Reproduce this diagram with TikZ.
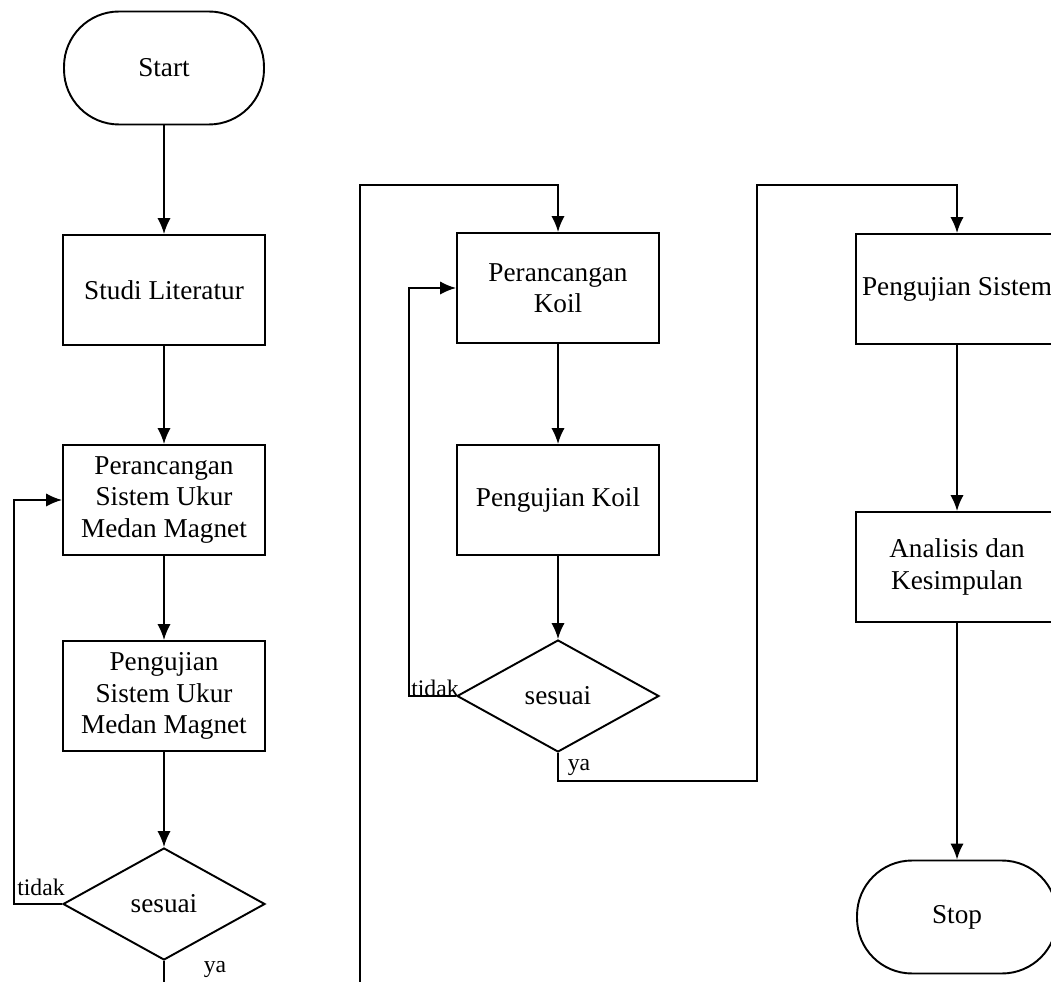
\documentclass[tikz,border=0pt]{standalone}
\usepackage{fontspec}
\setmainfont{Liberation Serif}
\usetikzlibrary{arrows.meta, shapes.geometric, positioning}

\begin{document}
\begin{tikzpicture}[x=0.02cm, y=-0.02cm,
    proses/.style={draw, line width=1.1pt, minimum width=4.04cm, minimum height=2.2cm,
        align=center, inner sep=2pt, font=\fontsize{15.5}{17.8}\selectfont},
    terminal/.style={draw, line width=1.1pt, rounded corners=1.1cm, minimum width=4cm,
        minimum height=2.26cm, font=\fontsize{15.5}{17.8}\selectfont},
    keputusan/.style={draw, diamond, line width=1.1pt, minimum width=4.04cm,
        minimum height=2.24cm, inner sep=0pt, font=\fontsize{15.5}{17.8}\selectfont},
    panah/.style={draw, line width=1.1pt, -{Latex[length=9pt,width=7.5pt]}},
    garis/.style={draw, line width=1.1pt},
    ket/.style={font=\fontsize{13.5}{16}\selectfont, inner sep=1pt}]

    \useasboundingbox (0,0) rectangle (1051,982);
    \clip (0,0) rectangle (1051,982);

    % Kolom pertama
    \node[terminal] (start) at (164,68) {Start};
    \node[proses] (studi) at (164,290) {Studi Literatur};
    \node[proses] (rancang1) at (164,500) {Perancangan\\Sistem Ukur\\Medan Magnet};
    \node[proses] (uji1) at (164,696) {Pengujian\\Sistem Ukur\\Medan Magnet};
    \node[keputusan] (cek1) at (164,904) {sesuai};

    \draw[panah] (start) -- (studi);
    \draw[panah] (studi) -- (rancang1);
    \draw[panah] (rancang1) -- (uji1);
    \draw[panah] (uji1) -- (cek1);
    \draw[panah] (cek1.west) -- ++(-48,0) |- (rancang1.west);
    \node[ket] (tidak1) at (41,887) {tidak};
    \coordinate (bawah1) at (164,995);
    \draw[garis] (cek1.south) -- (bawah1);
    \node[ket] (ya1) at (215,969) {ya};

    % Kolom kedua
    \node[proses] (rancang2) at (558,288) {Perancangan\\Koil};
    \node[proses] (uji2) at (558,500) {Pengujian Koil};
    \node[keputusan] (cek2) at (558,696) {sesuai};

    \coordinate (bawah2) at (360,995);
    \draw[panah] (bawah2) -- ++(0,-810) -| (rancang2.north);
    \draw[panah] (rancang2) -- (uji2);
    \draw[panah] (uji2) -- (cek2);
    \draw[panah] (cek2.west) -- ++(-47,0) |- (rancang2.west);
    \node[ket] (tidak2) at (435,688) {tidak};
    \node[ket] (ya2) at (579,767) {ya};

    % Kolom ketiga
    \node[proses] (ujisis) at (957,289) {Pengujian Sistem};
    \node[proses] (analisis) at (957,567) {Analisis dan\\Kesimpulan};
    \node[terminal] (stop) at (957,917) {Stop};

    \coordinate (belok1) at (757,781);
    \coordinate (belok2) at (757,185);
    \draw[panah] (cek2.south) |- (belok1) -- (belok2) -| (ujisis.north);
    \draw[panah] (ujisis) -- (analisis);
    \draw[panah] (analisis) -- (stop);
\end{tikzpicture}
\end{document}
